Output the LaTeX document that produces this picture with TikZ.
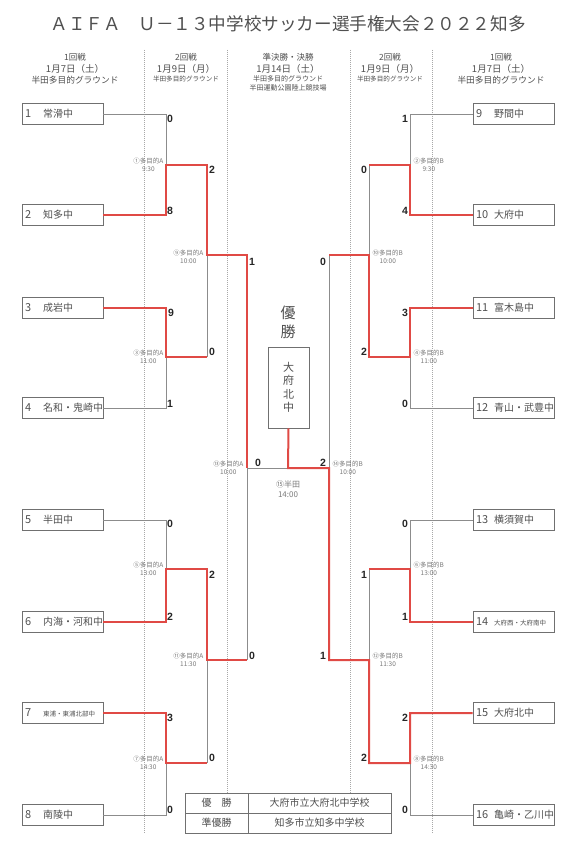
\documentclass[tikz,border=0pt]{standalone}
\usepackage{fontspec}
\setmainfont{Noto Sans CJK JP}
\newfontfamily\numfont{Liberation Sans}
\definecolor{winred}{HTML}{E04A45}
\definecolor{linegray}{HTML}{8C8C8C}
\definecolor{boxgray}{HTML}{707070}
\definecolor{sepgray}{HTML}{A8A8A8}
\definecolor{txtgray}{HTML}{505050}
\definecolor{lblgray}{HTML}{7A7A7A}
\tikzset{
  team/.style={draw=boxgray, line width=0.8pt, minimum width=81pt, minimum height=21pt,
    text width=75pt, inner xsep=3pt, inner ysep=0pt, align=left, text=txtgray},
  gline/.style={draw=linegray, line width=0.8pt},
  rline/.style={draw=winred, line width=2pt, line join=miter},
  score/.style={font=\numfont\bfseries\fontsize{10.5}{10.5}\selectfont, inner sep=0.5pt, text=black!85},
  mlabel/.style={font=\fontsize{6.5}{7.8}\selectfont, text=lblgray, align=center, inner sep=0.5pt},
  sepline/.style={draw=sepgray, line width=0.5pt, dash pattern=on 0.8pt off 1.2pt},
  hdr/.style={text=txtgray, inner sep=0pt},
  cell/.style={draw=boxgray, line width=0.8pt, minimum height=20pt, inner sep=0pt, text=txtgray,
    font=\fontsize{10}{10}\selectfont},
}
\newcommand{\tnum}[1]{\makebox[18pt][l]{\fontsize{11}{12}\selectfont #1}}
\newcommand{\tname}[1]{{\fontsize{10}{12}\selectfont #1}}
\newcommand{\tsmall}[1]{{\fontsize{6.5}{12}\selectfont #1}}
\begin{document}
\begin{tikzpicture}[x=1pt,y=-1pt]
\useasboundingbox[fill=white] (0,0) rectangle (576,845);

% title
\node[text=txtgray, inner sep=0pt, font=\fontsize{17.6}{18}\selectfont] (title) at (288,24) {ＡＩＦＡ　Ｕ－１３中学校サッカー選手権大会２０２２知多};

% headers
\node[hdr, font=\fontsize{8.5}{9}\selectfont] (h1a) at (75,57) {1回戦};
\node[hdr, font=\fontsize{9.5}{10}\selectfont] (h1b) at (75,69) {1月7日（土）};
\node[hdr, font=\fontsize{8.7}{9}\selectfont] (h1c) at (75,80) {半田多目的グラウンド};
\node[hdr, font=\fontsize{8.5}{9}\selectfont] (h2a) at (186,57) {2回戦};
\node[hdr, font=\fontsize{9.5}{10}\selectfont] (h2b) at (186,69) {1月9日（月）};
\node[hdr, font=\fontsize{6.6}{7}\selectfont] (h2c) at (186,79) {半田多目的グラウンド};
\node[hdr, font=\fontsize{8.5}{9}\selectfont] (h3a) at (288,57) {準決勝・決勝};
\node[hdr, font=\fontsize{9.5}{10}\selectfont] (h3b) at (288,69) {1月14日（土）};
\node[hdr, font=\fontsize{7}{7}\selectfont] (h3c) at (288,79) {半田多目的グラウンド};
\node[hdr, font=\fontsize{7}{7}\selectfont] (h3d) at (288,88) {半田運動公園陸上競技場};
\node[hdr, font=\fontsize{8.5}{9}\selectfont] (h4a) at (390,57) {2回戦};
\node[hdr, font=\fontsize{9.5}{10}\selectfont] (h4b) at (390,69) {1月9日（月）};
\node[hdr, font=\fontsize{6.6}{7}\selectfont] (h4c) at (390,79) {半田多目的グラウンド};
\node[hdr, font=\fontsize{8.5}{9}\selectfont] (h5a) at (501,57) {1回戦};
\node[hdr, font=\fontsize{9.5}{10}\selectfont] (h5b) at (501,69) {1月7日（土）};
\node[hdr, font=\fontsize{8.7}{9}\selectfont] (h5c) at (501,80) {半田多目的グラウンド};

% dotted separators
\coordinate (d1t) at (144,50); \coordinate (d1b) at (144,833);
\coordinate (d2t) at (227,50); \coordinate (d2b) at (227,793);
\coordinate (d3t) at (350,50); \coordinate (d3b) at (350,793);
\coordinate (d4t) at (432,50); \coordinate (d4b) at (432,833);
\draw[sepline] (d1t) -- (d1b);
\draw[sepline] (d2t) -- (d2b);
\draw[sepline] (d3t) -- (d3b);
\draw[sepline] (d4t) -- (d4b);

% team boxes
\node[team] (t1) at (62.5,114) {\tnum{1}\tname{常滑中}};
\node[team] (t2) at (62.5,215) {\tnum{2}\tname{知多中}};
\node[team] (t3) at (62.5,308) {\tnum{3}\tname{成岩中}};
\node[team] (t4) at (62.5,408) {\tnum{4}\tname{名和・鬼崎中}};
\node[team] (t5) at (62.5,520) {\tnum{5}\tname{半田中}};
\node[team] (t6) at (62.5,622) {\tnum{6}\tname{内海・河和中}};
\node[team] (t7) at (62.5,713) {\tnum{7}\tsmall{東浦・東浦北部中}};
\node[team] (t8) at (62.5,815) {\tnum{8}\tname{南陵中}};
\node[team] (t9) at (513.5,114) {\tnum{9}\tname{野間中}};
\node[team] (t10) at (513.5,215) {\tnum{10}\tname{大府中}};
\node[team] (t11) at (513.5,308) {\tnum{11}\tname{富木島中}};
\node[team] (t12) at (513.5,408) {\tnum{12}\tname{青山・武豊中}};
\node[team] (t13) at (513.5,520) {\tnum{13}\tname{横須賀中}};
\node[team] (t14) at (513.5,622) {\tnum{14}\tsmall{大府西・大府南中}};
\node[team] (t15) at (513.5,713) {\tnum{15}\tname{大府北中}};
\node[team] (t16) at (513.5,815) {\tnum{16}\tname{亀崎・乙川中}};

% junction coordinates
\coordinate (m1) at (166,165); \coordinate (m3) at (166,357);
\coordinate (m5) at (166,569); \coordinate (m7) at (166,763);
\coordinate (m9t) at (207,165); \coordinate (m9) at (207,255); \coordinate (m9b) at (207,357);
\coordinate (m11t) at (207,569); \coordinate (m11) at (207,660); \coordinate (m11b) at (207,763);
\coordinate (m13t) at (247,255); \coordinate (m13) at (247,468); \coordinate (m13b) at (247,660);
\coordinate (m2) at (410,165); \coordinate (m4) at (410,357);
\coordinate (m6) at (410,569); \coordinate (m8) at (410,763);
\coordinate (m10t) at (369,165); \coordinate (m10) at (369,255); \coordinate (m10b) at (369,357);
\coordinate (m12t) at (369,569); \coordinate (m12) at (369,660); \coordinate (m12b) at (369,763);
\coordinate (m14t) at (329,255); \coordinate (m14) at (329,468); \coordinate (m14b) at (329,660);
\coordinate (fin) at (288,468);

% champion
\node[text=txtgray, inner sep=0pt, align=center, font=\fontsize{15}{19}\selectfont] (yusho) at (288,322) {優\\勝};
\node[draw=boxgray, line width=0.8pt, minimum width=41pt, minimum height=81pt, inner sep=0pt,
  text=txtgray, align=center, font=\fontsize{11}{13.5}\selectfont] (champ) at (288.5,387.5) {大\\府\\北\\中};

% gray lines
\draw[gline] (t1.east) -| (m1);
\draw[gline] (t4.east) -| (m3);
\draw[gline] (t5.east) -| (m5);
\draw[gline] (t8.east) -| (m7);
\draw[gline] (m9b) -- (m9);
\draw[gline] (m11b) -- (m11);
\draw[gline] (m13b) -- (m13) -- (fin);
\draw[gline] (t9.west) -| (m2);
\draw[gline] (t12.west) -| (m4);
\draw[gline] (t13.west) -| (m6);
\draw[gline] (t16.west) -| (m8);
\draw[gline] (m10t) -- (m10);
\draw[gline] (m12t) -- (m12);
\draw[gline] (m14t) -- (m14);

% red lines
\draw[rline] (t2.east) -| (m1) -- (m9t) -- (m9) -- (m13t) -- (m13);
\draw[rline] (t3.east) -| (m3) -- (m9b);
\draw[rline] (t6.east) -| (m5) -- (m11t) -- (m11) -- (m13b);
\draw[rline] (t7.east) -| (m7) -- (m11b);
\draw[rline] (t10.west) -| (m2) -- (m10t);
\draw[rline] (t11.west) -| (m4) -- (m10b) -- (m10) -- (m14t);
\draw[rline] (t14.west) -| (m6) -- (m12t);
\draw[rline] (t15.west) -| (m8) -- (m12b) -- (m12) -- (m14b) -- (m14) -- (fin) -- (champ.south);

% scores left
\node[score] (s1) at (170,119) {0};
\node[score] (s2) at (170,211) {8};
\node[score] (s3) at (171,313) {9};
\node[score] (s4) at (170,404) {1};
\node[score] (s5) at (170,524) {0};
\node[score] (s6) at (170,617) {2};
\node[score] (s7) at (170,718) {3};
\node[score] (s8) at (170,810) {0};
\node[score] (s9a) at (212,170) {2};
\node[score] (s9b) at (212,352) {0};
\node[score] (s11a) at (212,575) {2};
\node[score] (s11b) at (212,758) {0};
\node[score] (s13a) at (252,262) {1};
\node[score] (s13b) at (252,656) {0};
\node[score] (sfa) at (258,463) {0};
\node[score] (sfb) at (323,463) {2};
% scores right
\node[score] (s14a) at (323,262) {0};
\node[score] (s14b) at (323,656) {1};
\node[score] (s10a) at (364,170) {0};
\node[score] (s10b) at (364,352) {2};
\node[score] (s12a) at (364,575) {1};
\node[score] (s12b) at (364,758) {2};
\node[score] (s9) at (405,119) {1};
\node[score] (s10) at (405,211) {4};
\node[score] (s11) at (405,313) {3};
\node[score] (s12) at (405,404) {0};
\node[score] (s13) at (405,524) {0};
\node[score] (s14) at (405,617) {1};
\node[score] (s15) at (405,718) {2};
\node[score] (s16) at (405,810) {0};

% match labels
\node[mlabel, anchor=east] (l1) at (164,165) {①多目的A\\9:30};
\node[mlabel, anchor=east] (l3) at (164,357) {③多目的A\\11:00};
\node[mlabel, anchor=east] (l5) at (164,569) {⑤多目的A\\13:00};
\node[mlabel, anchor=east] (l7) at (164,763) {⑦多目的A\\14:30};
\node[mlabel, anchor=east] (l9) at (204,257) {⑨多目的A\\10:00};
\node[mlabel, anchor=east] (l11) at (204,660) {⑪多目的A\\11:30};
\node[mlabel, anchor=east] (l13) at (244,468) {⑬多目的A\\10:00};
\node[mlabel, anchor=west] (l2) at (413,165) {②多目的B\\9:30};
\node[mlabel, anchor=west] (l4) at (413,357) {④多目的B\\11:00};
\node[mlabel, anchor=west] (l6) at (413,569) {⑥多目的B\\13:00};
\node[mlabel, anchor=west] (l8) at (413,763) {⑧多目的B\\14:30};
\node[mlabel, anchor=west] (l10) at (372,257) {⑩多目的B\\10:00};
\node[mlabel, anchor=west] (l12) at (372,660) {⑫多目的B\\11:30};
\node[mlabel, anchor=west] (l14) at (332,468) {⑭多目的B\\10:00};
\node[mlabel, font=\fontsize{8}{10}\selectfont] (l15) at (288,489) {⑮半田\\14:00};

% result table
\node[cell, minimum width=63pt] (c11) at (216.5,803) {優　勝};
\node[cell, minimum width=143pt] (c12) at (319.5,803) {大府市立大府北中学校};
\node[cell, minimum width=63pt] (c21) at (216.5,823) {準優勝};
\node[cell, minimum width=143pt] (c22) at (319.5,823) {知多市立知多中学校};
\end{tikzpicture}
\end{document}
